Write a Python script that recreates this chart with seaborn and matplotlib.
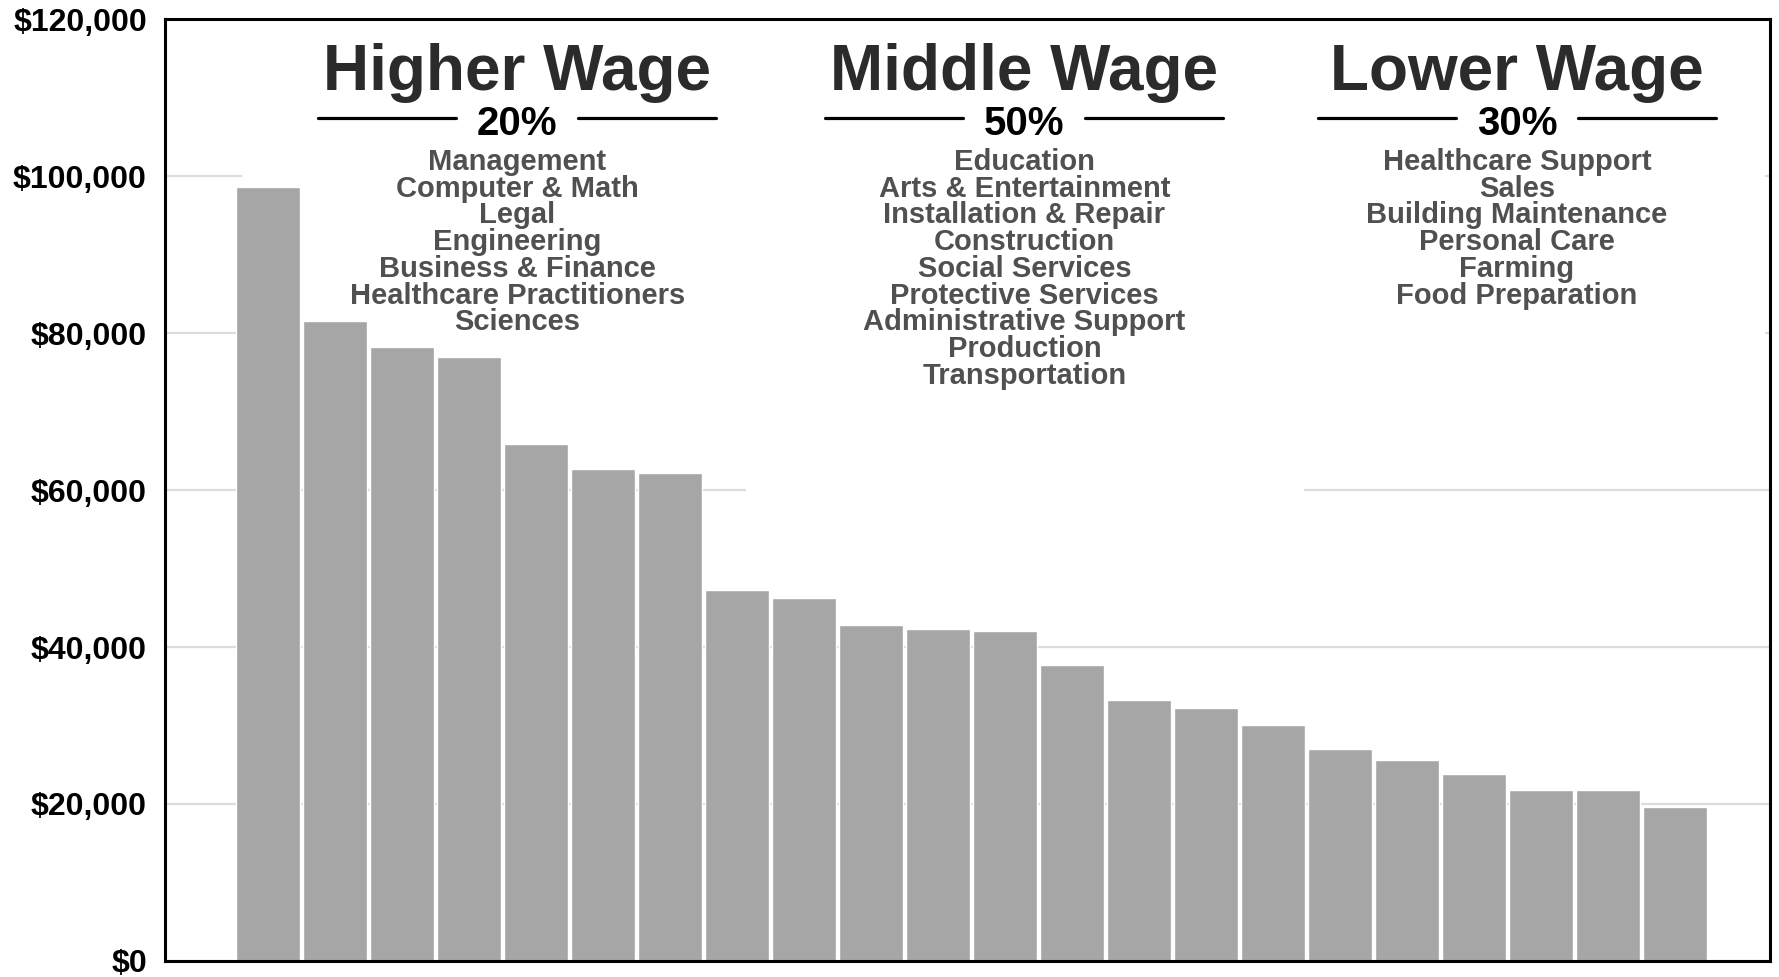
import matplotlib
matplotlib.use("Agg")
import pandas as pd
import seaborn as sns
import matplotlib.pyplot as plt
from matplotlib.patches import Rectangle
from matplotlib.ticker import FuncFormatter

# occupations in bar order, with median wage
occupations = [
    "Management", "Computer & Math", "Legal", "Engineering", "Business & Finance",
    "Healthcare Practitioners", "Sciences",
    "Education", "Arts & Entertainment", "Installation & Repair", "Construction",
    "Social Services", "Protective Services", "Administrative Support", "Production",
    "Transportation",
    "Healthcare Support", "Sales", "Building Maintenance", "Personal Care", "Farming",
    "Food Preparation",
]
wages = [98600, 81500, 78200, 76900, 65800, 62700, 62200,
         47300, 46300, 42800, 42300, 42100, 37700, 33200, 32200, 30100,
         26950, 25650, 23830, 21800, 21800, 19640]

groups = ["Higher Wage", "Middle Wage", "Lower Wage"]
shares = ["20%", "50%", "30%"]
group_sizes = [7, 9, 6]
yticks = [0, 20000, 40000, 60000, 80000, 100000, 120000]

df = pd.DataFrame({"occupation": occupations, "wage": wages})

sns.set_style("white")
plt.rcParams["font.family"] = ["Liberation Sans", "DejaVu Sans"]

fig = plt.figure(figsize=(17.79, 9.77), dpi=100)
ax = fig.add_axes([0.0927, 0.0164, 0.9023, 0.9641])

sns.barplot(data=df, x="occupation", y="wage", order=occupations,
            color="#a6a6a6", saturation=1, width=0.955, ax=ax, zorder=2)

ax.set_xlim(-1.54, 22.42)
ax.set_ylim(0, 120000)
ax.set_yticks(yticks)
ax.yaxis.set_major_formatter(FuncFormatter(lambda v, p: "${:,.0f}".format(v)))
ax.set_xticks([])
ax.set_xlabel("")
ax.set_ylabel("")
ax.grid(axis="y", color="#dcdcdc", linewidth=1.6)
ax.set_axisbelow(True)
for s in ax.spines.values():
    s.set_color("black")
    s.set_linewidth(2.2)
ax.tick_params(axis="y", length=7, width=2, color="black", pad=6)
for lab in ax.get_yticklabels():
    lab.set_fontsize(23)
    lab.set_fontweight("bold")
    lab.set_color("black")

# white panels behind the group captions (hide the gridlines)
boxes = [(-0.39, 7.13, 70000), (7.13, 15.47, 50000), (15.47, 22.34, 70000)]
for x0, x1, y0 in boxes:
    ax.add_patch(Rectangle((x0, y0), x1 - x0, 120000 - y0, facecolor="white",
                           edgecolor="none", zorder=1))

centers = [3.72, 11.29, 18.64]
start = 0
for g, share, n, cx in zip(groups, shares, group_sizes, centers):
    ax.text(cx, 110950, g, ha="center", va="baseline", fontsize=46,
            fontweight="bold", color="#2b2b2b", zorder=3)
    ax.text(cx, 105220, share, ha="center", va="baseline", fontsize=29,
            fontweight="bold", color="black", zorder=3)
    ax.plot([cx - 2.97, cx - 0.91], [107400, 107400], color="black", lw=2.3, zorder=3)
    ax.plot([cx + 0.91, cx + 2.97], [107400, 107400], color="black", lw=2.3, zorder=3)
    for i, occ in enumerate(occupations[start:start + n]):
        ax.text(cx, 100760 - i * 3400, occ, ha="center", va="baseline", fontsize=21,
                fontweight="bold", color="#505050", zorder=3)
    start += n

fig.savefig("out.png", dpi=100)
